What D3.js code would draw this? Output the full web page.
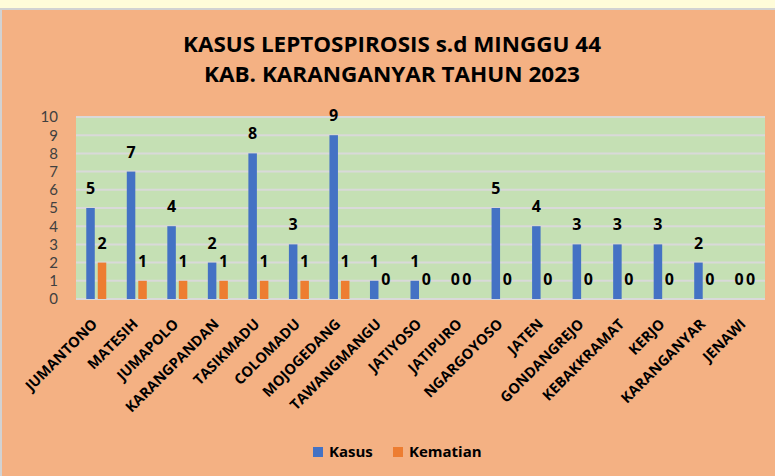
<!DOCTYPE html>
<html>
<head>
<meta charset="utf-8">
<script src="https://cdn.jsdelivr.net/npm/d3@7.9.0/dist/d3.min.js"></script>
<style>
  html, body { margin: 0; padding: 0; background: #fffcd9; }
  svg { display: block; font-family: "Open Sans", sans-serif; }
</style>
</head>
<body>
<svg width="775" height="476"></svg>
<script>
// data
const kecamatan = ['JUMANTONO', 'MATESIH', 'JUMAPOLO', 'KARANGPANDAN', 'TASIKMADU', 'COLOMADU',
  'MOJOGEDANG', 'TAWANGMANGU', 'JATIYOSO', 'JATIPURO', 'NGARGOYOSO', 'JATEN', 'GONDANGREJO',
  'KEBAKKRAMAT', 'KERJO', 'KARANGANYAR', 'JENAWI'];
const kasus = [5, 7, 4, 2, 8, 3, 9, 1, 1, 0, 5, 4, 3, 3, 3, 2, 0];
const kematian = [2, 1, 1, 1, 1, 1, 1, 0, 0, 0, 0, 0, 0, 0, 0, 0, 0];
const seriesNames = ['Kasus', 'Kematian'];
const yTicks = [0, 1, 2, 3, 4, 5, 6, 7, 8, 9, 10];
const titleLines = ['KASUS LEPTOSPIROSIS s.d MINGGU 44', 'KAB. KARANGANYAR TAHUN 2023'];

const colors = d3.scaleOrdinal().domain(seriesNames).range(['#4472c4', '#ed7d31']);

let svg = d3.select('svg');

// chart frame
svg.append('rect').attr('x', 1).attr('y', 9).attr('width', 780).attr('height', 470)
  .attr('fill', '#f4b183').attr('stroke', '#d2d2d2').attr('stroke-width', 2);

// title
svg.selectAll('.title')
  .data(titleLines)
  .join('text')
  .attr('class', 'title')
  .attr('x', 392)
  .attr('y', (d, i) => 52 + i * 30)
  .attr('text-anchor', 'middle')
  .attr('font-size', 21)
  .attr('font-weight', 700)
  .attr('fill', '#000')
  .attr('textLength', (d, i) => i === 0 ? 418 : 376)
  .attr('lengthAdjust', 'spacingAndGlyphs')
  .text(d => d);

const plot = { left: 76, right: 765, top: 117, bottom: 299 };

let x = d3.scaleBand().domain(kecamatan).range([plot.left, plot.right]).padding(0);
let xInner = d3.scaleBand().domain(seriesNames)
  .range([(x.bandwidth() - 20) / 2, (x.bandwidth() + 20) / 2]).paddingInner(0.26);
let y = d3.scaleLinear().domain([0, 10]).range([plot.bottom, plot.top]);

// plot background
svg.append('rect')
  .attr('x', plot.left).attr('y', plot.top)
  .attr('width', plot.right - plot.left).attr('height', plot.bottom - plot.top)
  .attr('fill', '#c5e0b4');

// gridlines
svg.append('g')
  .selectAll('line')
  .data(yTicks)
  .join('line')
  .attr('x1', plot.left).attr('x2', plot.right)
  .attr('y1', d => y(d)).attr('y2', d => y(d))
  .attr('stroke', '#d9d9d9').attr('stroke-width', 2);

// y axis
let yAxis = svg.append('g')
  .attr('transform', `translate(${plot.left - 18},0)`)
  .call(d3.axisLeft(y).tickValues(yTicks).tickSize(0).tickPadding(0));
yAxis.select('.domain').remove();
yAxis.selectAll('text')
  .attr('font-family', 'Lato, sans-serif')
  .attr('font-size', 15)
  .attr('fill', '#404040');

// bars
let rows = kecamatan.map((k, i) => ({ k, values: [
  { s: 'Kasus', v: kasus[i] },
  { s: 'Kematian', v: kematian[i] }
] }));

let groups = svg.append('g')
  .selectAll('g')
  .data(rows)
  .join('g')
  .attr('transform', d => `translate(${x(d.k)},0)`);

groups.selectAll('rect')
  .data(d => d.values)
  .join('rect')
  .attr('x', d => xInner(d.s))
  .attr('y', d => y(d.v))
  .attr('width', xInner.bandwidth())
  .attr('height', d => y(0) - y(d.v))
  .attr('fill', d => colors(d.s));

// data labels
groups.selectAll('text')
  .data(d => d.values)
  .join('text')
  .attr('x', d => xInner(d.s) + xInner.bandwidth() / 2)
  .attr('y', d => y(d.v) - 14)
  .attr('text-anchor', 'middle')
  .attr('font-size', 16)
  .attr('font-weight', 700)
  .attr('fill', '#000')
  .text(d => d.v);

// x labels
svg.append('g')
  .selectAll('text')
  .data(kecamatan)
  .join('text')
  .attr('transform', d => `translate(${x(d) + x.bandwidth() / 2 + 2},${plot.bottom + 26}) rotate(-45)`)
  .attr('text-anchor', 'end')
  .attr('font-size', 14.5)
  .attr('font-weight', 700)
  .attr('fill', '#000')
  .text(d => d);

// legend
let legend = svg.append('g')
  .selectAll('g')
  .data(seriesNames)
  .join('g')
  .attr('transform', (d, i) => `translate(${i === 0 ? 313 : 393},447)`);

legend.append('rect')
  .attr('width', 10).attr('height', 10)
  .attr('fill', d => colors(d));

legend.append('text')
  .attr('x', 16).attr('y', 10)
  .attr('font-size', 15)
  .attr('font-weight', 700)
  .attr('fill', '#000')
  .text(d => d);
</script>
</body>
</html>
